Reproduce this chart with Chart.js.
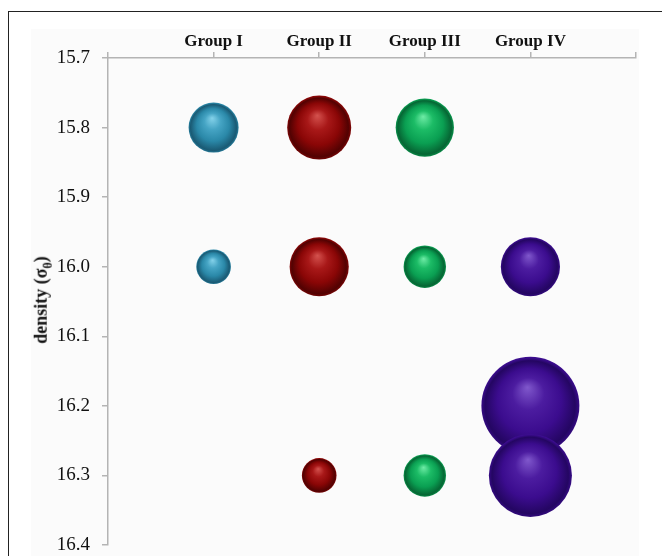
<!DOCTYPE html>
<html>
<head>
<meta charset="utf-8">
<script src="https://cdn.jsdelivr.net/npm/chart.js@4/dist/chart.umd.min.js"></script>
<style>
  html, body { margin:0; padding:0; background:#fff; }
  #wrap { position:relative; width:662px; height:556px; overflow:hidden; }
  #frame { position:absolute; left:8px; top:11px; width:700px; height:600px;
           border-left:1.5px solid #222; border-top:1.5px solid #222; }
  #plotbg { position:absolute; left:31px; top:29px; width:608px; height:560px; background:#fbfbfb; }
  #chart { position:absolute; left:0; top:0; }
  #ytitle { position:absolute; left:43px; top:300px; transform:translate(-50%,-50%) rotate(-90deg);
            font:bold 18px "Liberation Serif", serif; color:#111; white-space:nowrap; }
  #ytitle sub { font-size:12px; }
</style>
</head>
<body>
<div id="wrap">
  <div id="frame"></div>
  <div id="plotbg"></div>
  <canvas id="chart" width="662" height="556"></canvas>
  <div id="ytitle">density (σ<sub>θ</sub>)</div>
</div>
<script>
/* bubble chart: water-mass groups vs density */

const GROUPS = ['Group I', 'Group II', 'Group III', 'Group IV'];
const Y_TICKS = [15.7, 15.8, 15.9, 16.0, 16.1, 16.2, 16.3, 16.4];

// density levels and bubble size (relative units) per group
const g1Density = [15.8, 16.0];
const g1Size    = [25, 12];
const g2Density = [15.8, 16.0, 16.3];
const g2Size    = [41, 35, 12];
const g3Density = [15.8, 16.0, 16.3];
const g3Size    = [34, 18, 18];
const g4Density = [16.0, 16.2, 16.3];
const g4Size    = [35, 96, 69];

const SPHERES = [
  {hi:'#84d2ea', mid:'#45a4c4', base:'#2a88a8', dark:'#1a5a74'},
  {hi:'#d4524e', mid:'#a81818', base:'#8a0606', dark:'#520202'},
  {hi:'#6eeca6', mid:'#1cbc66', base:'#0a9f52', dark:'#066634'},
  {hi:'#8058cc', mid:'#4c1ca0', base:'#3b0c8e', dark:'#240662'}
];

const R_SCALE = 5;   // px per sqrt(size unit)
const AXIS = '#b4b4b4';
const SERIF = '"Liberation Serif", "Times New Roman", serif';

function points(groupNo, dens, size){
  return dens.map((d, i) => ({x: groupNo, y: d, r: R_SCALE * Math.sqrt(size[i])}));
}

function sphereFill(c){
  return function(ctx){
    const ch = ctx.chart;
    if(!ch.scales.x || !ctx.raw) return c.base;
    const cx = ch.scales.x.getPixelForValue(ctx.raw.x);
    const cy = ch.scales.y.getPixelForValue(ctx.raw.y);
    const r = ctx.raw.r;
    if(!isFinite(cx) || !isFinite(cy)) return c.base;
    const g = ch.ctx.createRadialGradient(cx - 0.06*r, cy - 0.38*r, 0, cx, cy + 0.04*r, r * 1.02);
    g.addColorStop(0, c.hi);
    g.addColorStop(0.32, c.mid);
    g.addColorStop(0.64, c.base);
    g.addColorStop(0.9, c.dark);
    g.addColorStop(1, c.base);
    return g;
  };
}

const series = [
  points(1, g1Density, g1Size),
  points(2, g2Density, g2Size),
  points(3, g3Density, g3Size),
  points(4, g4Density, g4Size)
];

new Chart(document.getElementById('chart').getContext('2d'), {
  type:'bubble',
  data:{
    datasets: series.map((pts, i) => ({
      label: GROUPS[i],
      data: pts,
      backgroundColor: sphereFill(SPHERES[i]),
      hoverBackgroundColor: sphereFill(SPHERES[i]),
      borderWidth: 0,
      hoverBorderWidth: 0,
      clip: false
    }))
  },
  options:{
    responsive:false, animation:false,
    layout:{autoPadding:false, padding:{left:0, top:0, right:26, bottom:11}},
    plugins:{legend:{display:false}, tooltip:{enabled:false}},
    scales:{
      x:{
        type:'linear', position:'top', min:0, max:5,
        afterFit: s => { s.height = 58; s.paddingLeft = 0; s.paddingRight = 0; },
        afterBuildTicks: s => { s.ticks = [0,1,2,3,4,5].map(v => ({value:v})); },
        ticks:{
          callback: v => GROUPS[v - 1] || '',
          font:{family:SERIF, size:17, weight:'bold'}, color:'#111', padding:0,
          maxRotation:0, autoSkip:false
        },
        grid:{drawOnChartArea:false, tickLength:6, color:AXIS, lineWidth:1.5},
        border:{color:AXIS, width:1.5}
      },
      y:{
        type:'linear', reverse:true, min:15.7, max:16.4,
        afterFit: s => { s.width = 108; s.paddingTop = 0; s.paddingBottom = 0; },
        afterBuildTicks: s => { s.ticks = Y_TICKS.map(v => ({value:v})); },
        ticks:{
          callback: v => Number(v).toFixed(1),
          font:{family:SERIF, size:19}, color:'#111', padding:12
        },
        grid:{drawOnChartArea:false, tickLength:6, color:AXIS, lineWidth:1.5},
        border:{color:AXIS, width:1.5}
      }
    }
  }
});
</script>
</body>
</html>
